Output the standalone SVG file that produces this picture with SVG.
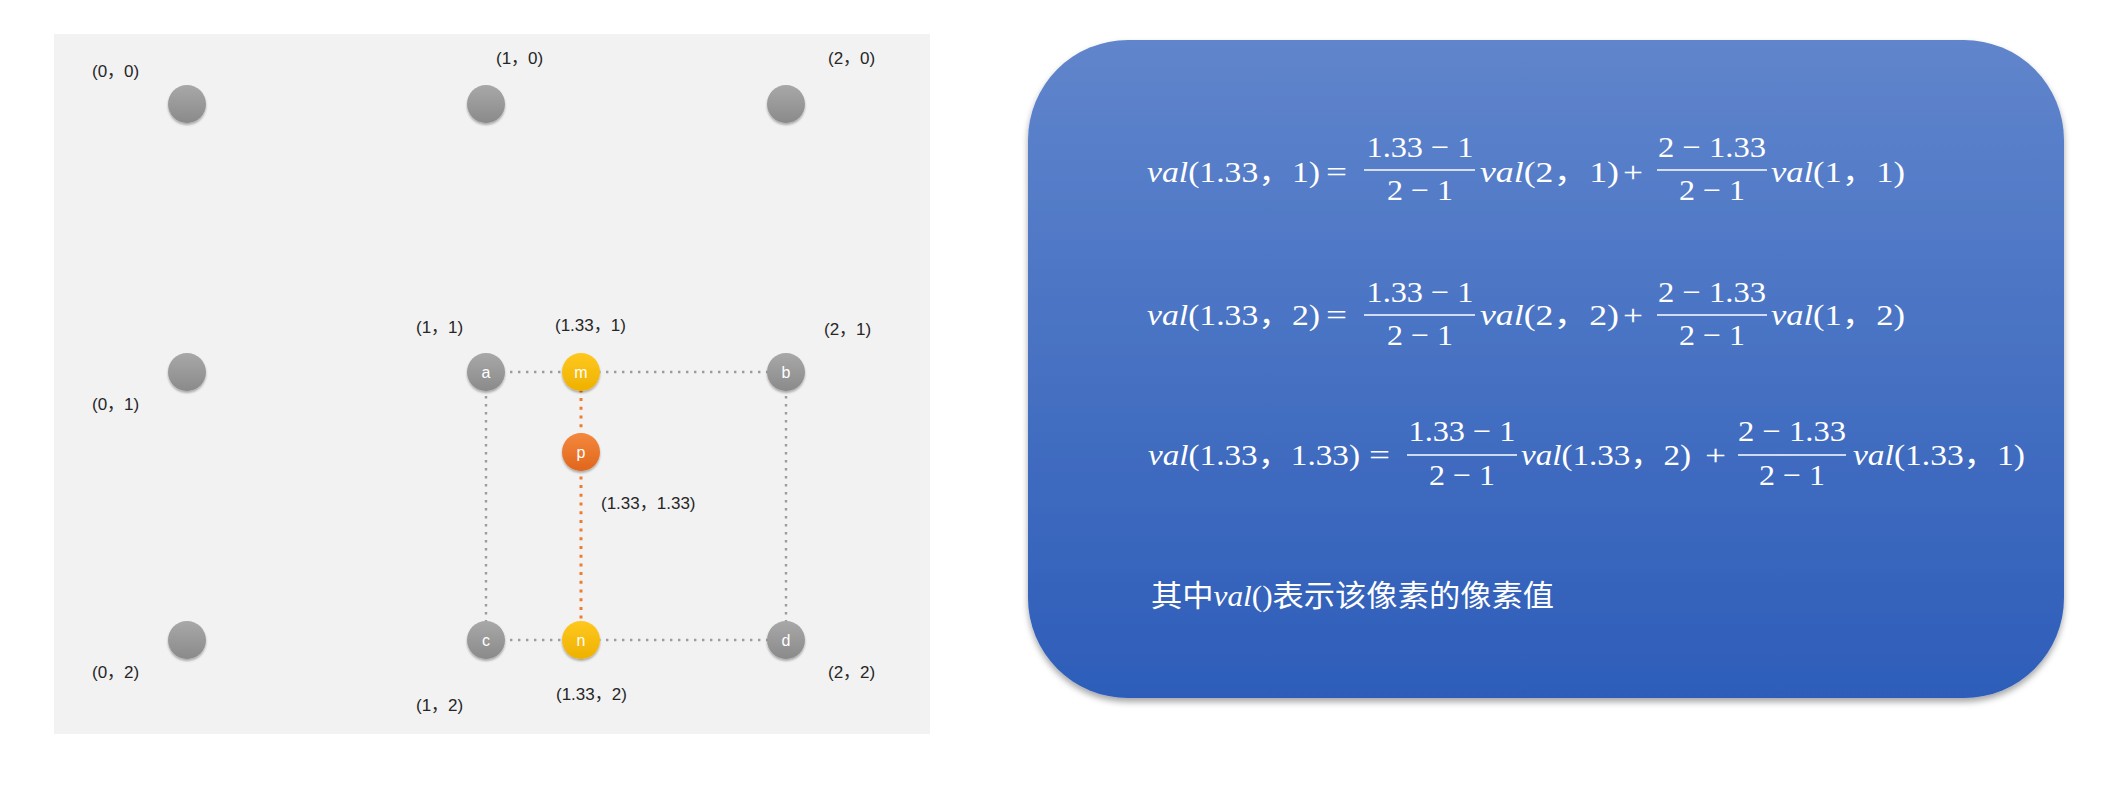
<svg xmlns="http://www.w3.org/2000/svg" width="2105" height="811" viewBox="0 0 2105 811">
<style>
.lbl{font-family:"Liberation Sans","Noto Sans CJK SC",sans-serif;font-size:17px;fill:#262626}
.nl{font-family:"Liberation Sans",sans-serif;font-size:16px;fill:#ffffff;text-anchor:middle}
.m{font-family:"Liberation Serif","Noto Sans CJK SC",serif;font-size:30px;fill:#ffffff}
.c{text-anchor:middle}
.i{font-style:italic}
.bar{stroke:#ffffff;stroke-width:1.6}
.gd{stroke:#9c9c9c;stroke-width:2.4;stroke-dasharray:2.4 5.6;fill:none}
.od{stroke:#ed7d31;stroke-width:3;stroke-dasharray:3 5.7;fill:none}
.cn{font-family:"Noto Sans CJK SC","Liberation Sans",sans-serif;font-size:30px;fill:#ffffff}
</style>
<defs>
<linearGradient id="gG" x1="0" y1="0" x2="0" y2="1"><stop offset="0" stop-color="#a8a8a8"/><stop offset="1" stop-color="#8a8a8a"/></linearGradient>
<linearGradient id="gY" x1="0" y1="0" x2="0" y2="1"><stop offset="0" stop-color="#ffc81e"/><stop offset="1" stop-color="#eeb100"/></linearGradient>
<linearGradient id="gO" x1="0" y1="0" x2="0" y2="1"><stop offset="0" stop-color="#f3883d"/><stop offset="1" stop-color="#e0661c"/></linearGradient>
<linearGradient id="gB" x1="0" y1="0" x2="0" y2="1"><stop offset="0" stop-color="#6085cc"/><stop offset="1" stop-color="#2d5db9"/></linearGradient>
<filter id="ns" x="-30%" y="-30%" width="160%" height="170%"><feDropShadow dx="0" dy="2" stdDeviation="1.2" flood-color="#000" flood-opacity="0.3"/></filter>
<filter id="bs" x="-5%" y="-5%" width="110%" height="115%"><feDropShadow dx="0" dy="4" stdDeviation="3" flood-color="#000" flood-opacity="0.35"/></filter>
</defs>
<rect width="2105" height="811" fill="#ffffff"/>
<rect id="panel" x="54" y="34" width="876" height="700" fill="#f2f2f2"/>

<g id="connectors">
<line class="gd" x1="486" y1="372" x2="786" y2="372"/>
<line class="gd" x1="486" y1="640" x2="786" y2="640"/>
<line class="gd" x1="486" y1="372" x2="486" y2="640"/>
<line class="gd" x1="786" y1="372" x2="786" y2="640"/>
<line class="od" x1="581" y1="372" x2="581" y2="640"/>
</g>

<g id="n00"><circle cx="187" cy="104" r="19" fill="url(#gG)" filter="url(#ns)"/><text class="lbl" x="92" y="77">(0，0)</text></g>
<g id="n10"><circle cx="486" cy="104" r="19" fill="url(#gG)" filter="url(#ns)"/><text class="lbl" x="496" y="64">(1，0)</text></g>
<g id="n20"><circle cx="786" cy="104" r="19" fill="url(#gG)" filter="url(#ns)"/><text class="lbl" x="828" y="64">(2，0)</text></g>
<g id="n01"><circle cx="187" cy="372" r="19" fill="url(#gG)" filter="url(#ns)"/><text class="lbl" x="92" y="410">(0，1)</text></g>
<g id="n02"><circle cx="187" cy="640" r="19" fill="url(#gG)" filter="url(#ns)"/><text class="lbl" x="92" y="678">(0，2)</text></g>
<g id="na"><circle cx="486" cy="372" r="19" fill="url(#gG)" filter="url(#ns)"/><text class="nl" x="486" y="378">a</text><text class="lbl" x="416" y="333">(1，1)</text></g>
<g id="nb"><circle cx="786" cy="372" r="19" fill="url(#gG)" filter="url(#ns)"/><text class="nl" x="786" y="378">b</text><text class="lbl" x="824" y="335">(2，1)</text></g>
<g id="nc"><circle cx="486" cy="640" r="19" fill="url(#gG)" filter="url(#ns)"/><text class="nl" x="486" y="646">c</text><text class="lbl" x="416" y="711">(1，2)</text></g>
<g id="nd"><circle cx="786" cy="640" r="19" fill="url(#gG)" filter="url(#ns)"/><text class="nl" x="786" y="646">d</text><text class="lbl" x="828" y="678">(2，2)</text></g>
<g id="nm"><circle cx="581" cy="372" r="19" fill="url(#gY)" filter="url(#ns)"/><text class="nl" x="581" y="378">m</text><text class="lbl" x="555" y="331">(1.33，1)</text></g>
<g id="nn"><circle cx="581" cy="640" r="19" fill="url(#gY)" filter="url(#ns)"/><text class="nl" x="581" y="646">n</text><text class="lbl" x="556" y="700">(1.33，2)</text></g>
<g id="np"><circle cx="581" cy="452" r="19" fill="url(#gO)" filter="url(#ns)"/><text class="nl" x="581" y="458">p</text><text class="lbl" x="601" y="509">(1.33，1.33)</text></g>

<g id="formula-box">
<rect x="1028" y="40" width="1036" height="658" rx="100" ry="100" fill="url(#gB)" filter="url(#bs)"/>

<g id="eq1">
<text class="m" x="1147" y="182" textLength="173" lengthAdjust="spacingAndGlyphs"><tspan class="i">val</tspan>(1.33，1)</text>
<text class="m" x="1326" y="182" textLength="21" lengthAdjust="spacingAndGlyphs">=</text>
<text class="m c" x="1420" y="157" textLength="107" lengthAdjust="spacingAndGlyphs">1.33 − 1</text>
<line class="bar" x1="1364" y1="170" x2="1475" y2="170"/>
<text class="m c" x="1420" y="200" textLength="66" lengthAdjust="spacingAndGlyphs">2 − 1</text>
<text class="m" x="1480" y="182" textLength="139" lengthAdjust="spacingAndGlyphs"><tspan class="i">val</tspan>(2，1)</text>
<text class="m" x="1623" y="182" textLength="20" lengthAdjust="spacingAndGlyphs">+</text>
<text class="m c" x="1712" y="157" textLength="108" lengthAdjust="spacingAndGlyphs">2 − 1.33</text>
<line class="bar" x1="1657" y1="170" x2="1767" y2="170"/>
<text class="m c" x="1712" y="200" textLength="66" lengthAdjust="spacingAndGlyphs">2 − 1</text>
<text class="m" x="1771" y="182" textLength="134" lengthAdjust="spacingAndGlyphs"><tspan class="i">val</tspan>(1，1)</text>
</g>

<g id="eq2">
<text class="m" x="1147" y="325" textLength="173" lengthAdjust="spacingAndGlyphs"><tspan class="i">val</tspan>(1.33，2)</text>
<text class="m" x="1326" y="325" textLength="21" lengthAdjust="spacingAndGlyphs">=</text>
<text class="m c" x="1420" y="302" textLength="107" lengthAdjust="spacingAndGlyphs">1.33 − 1</text>
<line class="bar" x1="1364" y1="315" x2="1475" y2="315"/>
<text class="m c" x="1420" y="345" textLength="66" lengthAdjust="spacingAndGlyphs">2 − 1</text>
<text class="m" x="1480" y="325" textLength="139" lengthAdjust="spacingAndGlyphs"><tspan class="i">val</tspan>(2，2)</text>
<text class="m" x="1623" y="325" textLength="20" lengthAdjust="spacingAndGlyphs">+</text>
<text class="m c" x="1712" y="302" textLength="108" lengthAdjust="spacingAndGlyphs">2 − 1.33</text>
<line class="bar" x1="1657" y1="315" x2="1767" y2="315"/>
<text class="m c" x="1712" y="345" textLength="66" lengthAdjust="spacingAndGlyphs">2 − 1</text>
<text class="m" x="1771" y="325" textLength="134" lengthAdjust="spacingAndGlyphs"><tspan class="i">val</tspan>(1，2)</text>
</g>

<g id="eq3">
<text class="m" x="1148" y="465" textLength="212" lengthAdjust="spacingAndGlyphs"><tspan class="i">val</tspan>(1.33，1.33)</text>
<text class="m" x="1369" y="465" textLength="21" lengthAdjust="spacingAndGlyphs">=</text>
<text class="m c" x="1462" y="441" textLength="107" lengthAdjust="spacingAndGlyphs">1.33 − 1</text>
<line class="bar" x1="1407" y1="455" x2="1517" y2="455"/>
<text class="m c" x="1462" y="485" textLength="66" lengthAdjust="spacingAndGlyphs">2 − 1</text>
<text class="m" x="1521" y="465" textLength="170" lengthAdjust="spacingAndGlyphs"><tspan class="i">val</tspan>(1.33，2)</text>
<text class="m" x="1705" y="465" textLength="21" lengthAdjust="spacingAndGlyphs">+</text>
<text class="m c" x="1792" y="441" textLength="108" lengthAdjust="spacingAndGlyphs">2 − 1.33</text>
<line class="bar" x1="1738" y1="455" x2="1846" y2="455"/>
<text class="m c" x="1792" y="485" textLength="66" lengthAdjust="spacingAndGlyphs">2 − 1</text>
<text class="m" x="1853" y="465" textLength="172" lengthAdjust="spacingAndGlyphs"><tspan class="i">val</tspan>(1.33，1)</text>
</g>

<text id="note" class="cn" x="1151" y="606" textLength="403" lengthAdjust="spacingAndGlyphs">其中<tspan font-family="Liberation Serif, serif" font-style="italic">val</tspan><tspan font-family="Liberation Serif, serif">()</tspan>表示该像素的像素值</text>
</g>
</svg>
